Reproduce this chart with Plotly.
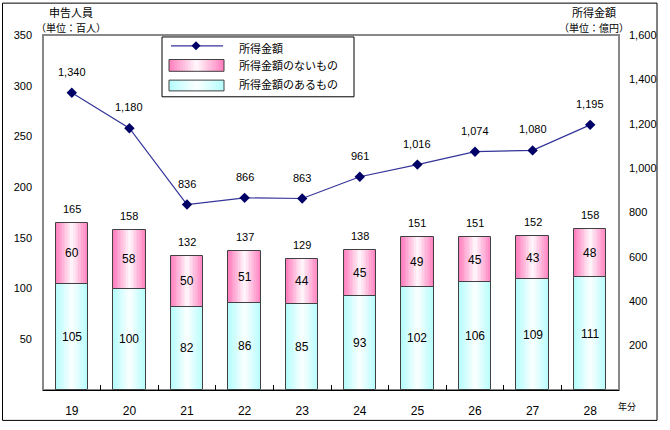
import plotly.graph_objects as go

years = ["19", "20", "21", "22", "23", "24", "25", "26", "27", "28"]
with_income = [105, 100, 82, 86, 85, 93, 102, 106, 109, 111]
without_income = [60, 58, 50, 51, 44, 45, 49, 45, 43, 48]
total_people = [165, 158, 132, 137, 129, 138, 151, 151, 152, 158]
income_amount = [1340, 1180, 836, 866, 863, 961, 1016, 1074, 1080, 1195]
left_ticks = [50, 100, 150, 200, 250, 300, 350]
right_ticks = [200, 400, 600, 800, 1000, 1200, 1400, 1600]

W, H = 670, 430
L, R, T, B = 43, 619, 35, 397
PW, PH = R - L, B - T

def px(x):
    return (x - L) / PW

def py(y):
    return (B - y) / PH

PINK = (255, 130, 192)
CYAN = (184, 252, 252)

def mix(c, t):
    r = [round(255 + (ci - 255) * t) for ci in c]
    return f"rgb({r[0]},{r[1]},{r[2]})"

NUM = "Liberation Sans"
JP = "Noto Sans CJK JP"
BW = 0.56
N = 10

fig = go.Figure()
bases_top = with_income
for i in range(N):
    t = (N - i) / N
    w = BW * (N - i) / N
    fig.add_trace(go.Bar(x=years, y=with_income, base=[0] * len(years), width=w,
                         marker=dict(color=mix(CYAN, t), line=dict(width=0)),
                         showlegend=False, hoverinfo="skip"))
    fig.add_trace(go.Bar(x=years, y=without_income, base=bases_top, width=w,
                         marker=dict(color=mix(PINK, t), line=dict(width=0)),
                         showlegend=False, hoverinfo="skip"))
# outlines
fig.add_trace(go.Bar(x=years, y=with_income, base=[0] * len(years), width=BW,
                     marker=dict(color="rgba(0,0,0,0)", line=dict(color="#404040", width=1)),
                     showlegend=False, hoverinfo="skip"))
fig.add_trace(go.Bar(x=years, y=without_income, base=bases_top, width=BW,
                     marker=dict(color="rgba(0,0,0,0)", line=dict(color="#404040", width=1)),
                     showlegend=False, hoverinfo="skip"))

fig.add_trace(go.Scatter(x=years, y=income_amount, yaxis="y2", mode="lines+markers",
                         line=dict(color="#333399", width=1.2),
                         marker=dict(symbol="diamond", size=8, color="#000066"),
                         showlegend=False))

ann = []
for k, (a, b, tot, inc) in enumerate(zip(with_income, without_income, total_people, income_amount)):
    ann.append(dict(x=k, y=a / 2, xref="x", yref="y", text=str(a), showarrow=False,
                    font=dict(family=NUM, size=12, color="black")))
    ann.append(dict(x=k, y=a + b / 2, xref="x", yref="y", text=str(b), showarrow=False,
                    font=dict(family=NUM, size=12, color="black")))
    ann.append(dict(x=k, y=a + b, xref="x", yref="y", text=str(tot), showarrow=False,
                    yshift=14, font=dict(family=NUM, size=11, color="black")))
    ann.append(dict(x=k, y=inc, xref="x", yref="y2", text=f"{inc:,}", showarrow=False,
                    yshift=21, font=dict(family=NUM, size=11, color="black")))

def txt(x, y, s, size=11, xanchor="center"):
    ann.append(dict(x=px(x), y=py(y), xref="paper", yref="paper", text=s, showarrow=False,
                    xanchor=xanchor, yanchor="middle", font=dict(family=JP, size=size, color="black")))

txt(71, 12, "申告人員")
txt(71, 27, "（単位：百人）", size=10)
txt(594, 12, "所得金額")
txt(594, 27, "（単位：億円）", size=10)
txt(627, 414, "年分", size=9)
txt(237, 48, "所得金額", xanchor="left")
txt(237, 66, "所得金額のないもの", xanchor="left")
txt(237, 85, "所得金額のあるもの", xanchor="left")

shapes = []
# outer border
shapes.append(dict(type="rect", xref="paper", yref="paper", x0=px(2.5), x1=px(657), y0=py(2.5), y1=py(428),
                   line=dict(color="black", width=1), layer="below"))
# plot area box
shapes.append(dict(type="rect", xref="paper", yref="paper", x0=0, x1=1, y0=0, y1=1,
                   line=dict(color="#888888", width=2), layer="below"))
# legend box
shapes.append(dict(type="rect", xref="paper", yref="paper", x0=px(162), x1=px(354), y0=py(37), y1=py(98),
                   line=dict(color="black", width=1), fillcolor="white", layer="above"))
shapes.append(dict(type="line", xref="paper", yref="paper", x0=px(171), x1=px(223), y0=py(46), y1=py(46),
                   line=dict(color="#333399", width=1.2), layer="above"))
# legend diamond
dx, dy = 4.5 / PW, 4.5 / PH
cx, cy = px(196), py(46)
shapes.append(dict(type="path", xref="paper", yref="paper",
                   path=f"M {cx - dx} {cy} L {cx} {cy + dy} L {cx + dx} {cy} L {cx} {cy - dy} Z",
                   fillcolor="#000066", line=dict(width=0), layer="above"))
# legend gradient swatches
for (y0, y1, col) in [(60, 72, PINK), (81, 92, CYAN)]:
    for i in range(N):
        t = (N - i) / N
        half = 27.5 * (N - i) / N
        c = 196.5
        shapes.append(dict(type="rect", xref="paper", yref="paper", x0=px(c - half), x1=px(c + half),
                           y0=py(y0), y1=py(y1), line=dict(width=0), fillcolor=mix(col, t), layer="above"))
    shapes.append(dict(type="rect", xref="paper", yref="paper", x0=px(169), x1=px(224), y0=py(y0), y1=py(y1),
                       line=dict(color="#404040", width=1), layer="above"))

fig.update_layout(
    width=W, height=H,
    margin=dict(l=L, r=W - R, t=T, b=H - B, pad=0),
    paper_bgcolor="white", plot_bgcolor="white",
    barmode="overlay", bargap=0,
    showlegend=False,
    font=dict(family=NUM, size=11, color="black"),
    xaxis=dict(type="category", range=[-0.5, len(years) - 0.5], showgrid=False, showline=True,
               linecolor="black", linewidth=1,
               ticks="inside", tickson="boundaries", ticklen=5, tickcolor="black",
               tickfont=dict(family=NUM, size=12), zeroline=False, tickangle=0, ticklabelstandoff=10),
    yaxis=dict(range=[0, 350], tickvals=left_ticks, showgrid=False, zeroline=False,
               showline=False, ticks="", tickfont=dict(family=NUM, size=11), ticklabelstandoff=10),
    yaxis2=dict(range=[0, 1600], tickvals=right_ticks, tickformat=",d", overlaying="y", side="right",
                showgrid=False, zeroline=False, showline=False, ticks="",
                tickfont=dict(family=NUM, size=11), ticklabelstandoff=9),
    annotations=ann,
    shapes=shapes,
)

post = ("document.documentElement.style.margin='0';document.documentElement.style.overflow='hidden';"
        "document.documentElement.style.height='430px';"
        "document.body.style.margin='0';document.body.style.padding='0';"
        "document.body.style.overflow='hidden';document.body.style.height='430px';")
fig.write_html("out.html", post_script=post, config={"displayModeBar": False})
